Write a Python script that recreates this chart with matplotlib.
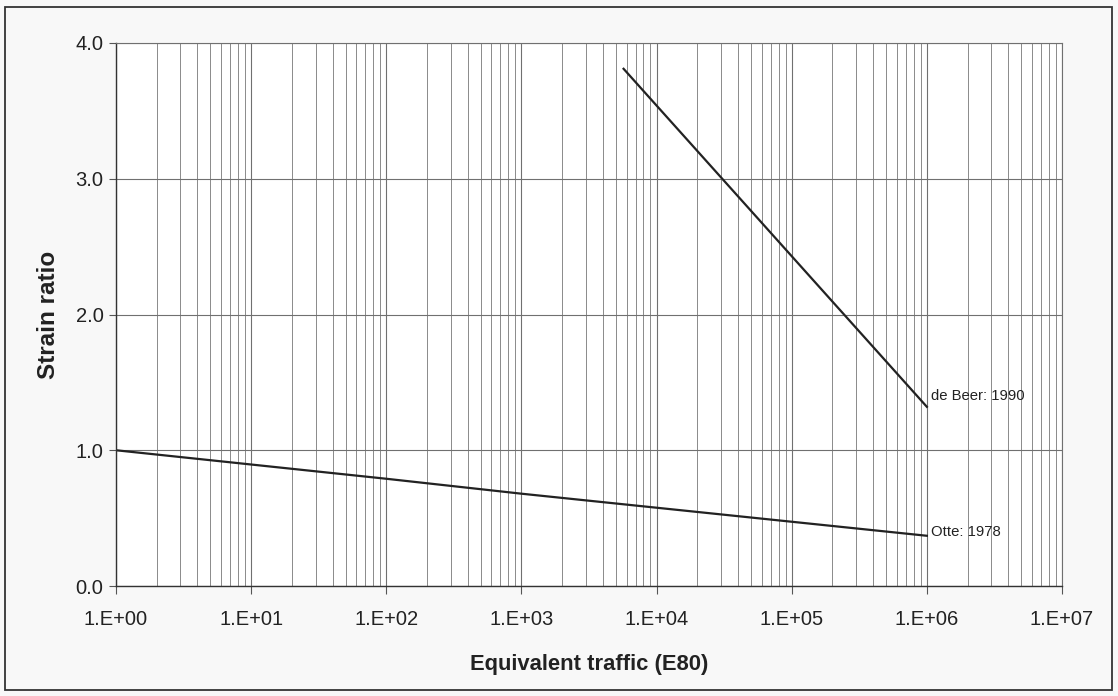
import matplotlib
matplotlib.use("Agg")
import matplotlib.pyplot as plt
from matplotlib.ticker import LogLocator, FixedLocator, NullFormatter
from matplotlib.patches import Rectangle

plt.rcParams['font.family'] = ['Liberation Sans', 'DejaVu Sans']

# Data
otte_x = [1.0, 1e2, 1e3, 1e6]
otte_y = [1.0, 0.79, 0.68, 0.37]
debeer_x = [5.7e3, 1e6]
debeer_y = [3.81, 1.32]
xtick_vals = [1e0, 1e1, 1e2, 1e3, 1e4, 1e5, 1e6, 1e7]
xtick_labels = ["1.E+00", "1.E+01", "1.E+02", "1.E+03", "1.E+04", "1.E+05", "1.E+06", "1.E+07"]
ytick_vals = [0.0, 1.0, 2.0, 3.0, 4.0]
ytick_labels = ["0.0", "1.0", "2.0", "3.0", "4.0"]

W, H = 1118, 696
fig = plt.figure(figsize=(W / 100, H / 100), dpi=100, facecolor='#f8f8f8')
ax = fig.add_axes([116 / W, 1 - 586 / H, (1062 - 116) / W, (586 - 43) / H])
ax.set_facecolor('white')

ax.set_xscale('log')
ax.set_xlim(1, 1e7)
ax.set_ylim(0, 4)

ax.xaxis.set_major_locator(FixedLocator(xtick_vals))
ax.set_xticklabels(xtick_labels)
ax.xaxis.set_minor_locator(LogLocator(base=10, subs=range(2, 10), numticks=100))
ax.xaxis.set_minor_formatter(NullFormatter())
ax.set_yticks(ytick_vals)
ax.set_yticklabels(ytick_labels)

ax.grid(True, which='major', axis='both', color='#707070', linewidth=0.8)
ax.grid(True, which='minor', axis='x', color='#8a8a8a', linewidth=0.7)
ax.set_axisbelow(True)

ax.tick_params(axis='x', which='major', length=6, width=0.8, color='#555555',
               labelsize=14.5, pad=11, direction='out', labelcolor='#222222')
ax.tick_params(axis='x', which='minor', length=0)
ax.tick_params(axis='y', which='major', length=5, width=0.8, color='#555555',
               labelsize=14.5, pad=4, direction='out', labelcolor='#222222')

for side in ['left', 'bottom']:
    ax.spines[side].set_color('#333333')
    ax.spines[side].set_linewidth(1.0)
for side in ['top', 'right']:
    ax.spines[side].set_color('#707070')
    ax.spines[side].set_linewidth(0.8)

ax.plot(otte_x, otte_y, color='#222222', linewidth=1.6)
ax.plot(debeer_x, debeer_y, color='#222222', linewidth=1.6)

ax.annotate("de Beer: 1990", xy=(debeer_x[-1], debeer_y[-1]), xytext=(3, 7.5),
            textcoords='offset points', fontsize=10.7, ha='left', va='center', color='#222222')
ax.annotate("Otte: 1978", xy=(otte_x[-1], otte_y[-1]), xytext=(3, 2.5),
            textcoords='offset points', fontsize=10.7, ha='left', va='center', color='#222222')

ax.set_ylabel("Strain ratio", fontsize=17.5, fontweight='bold', labelpad=11, color='#222222')
ax.set_xlabel("Equivalent traffic (E80)", fontsize=15.8, fontweight='bold', labelpad=18, color='#222222')

# outer frame
fig.patches.append(Rectangle((5 / W, 1 - 690 / H), (1112 - 5) / W, (690 - 7) / H,
                             transform=fig.transFigure, fill=False,
                             edgecolor='#333333', linewidth=1.3))

fig.savefig("out.png", dpi=100, facecolor=fig.get_facecolor())
